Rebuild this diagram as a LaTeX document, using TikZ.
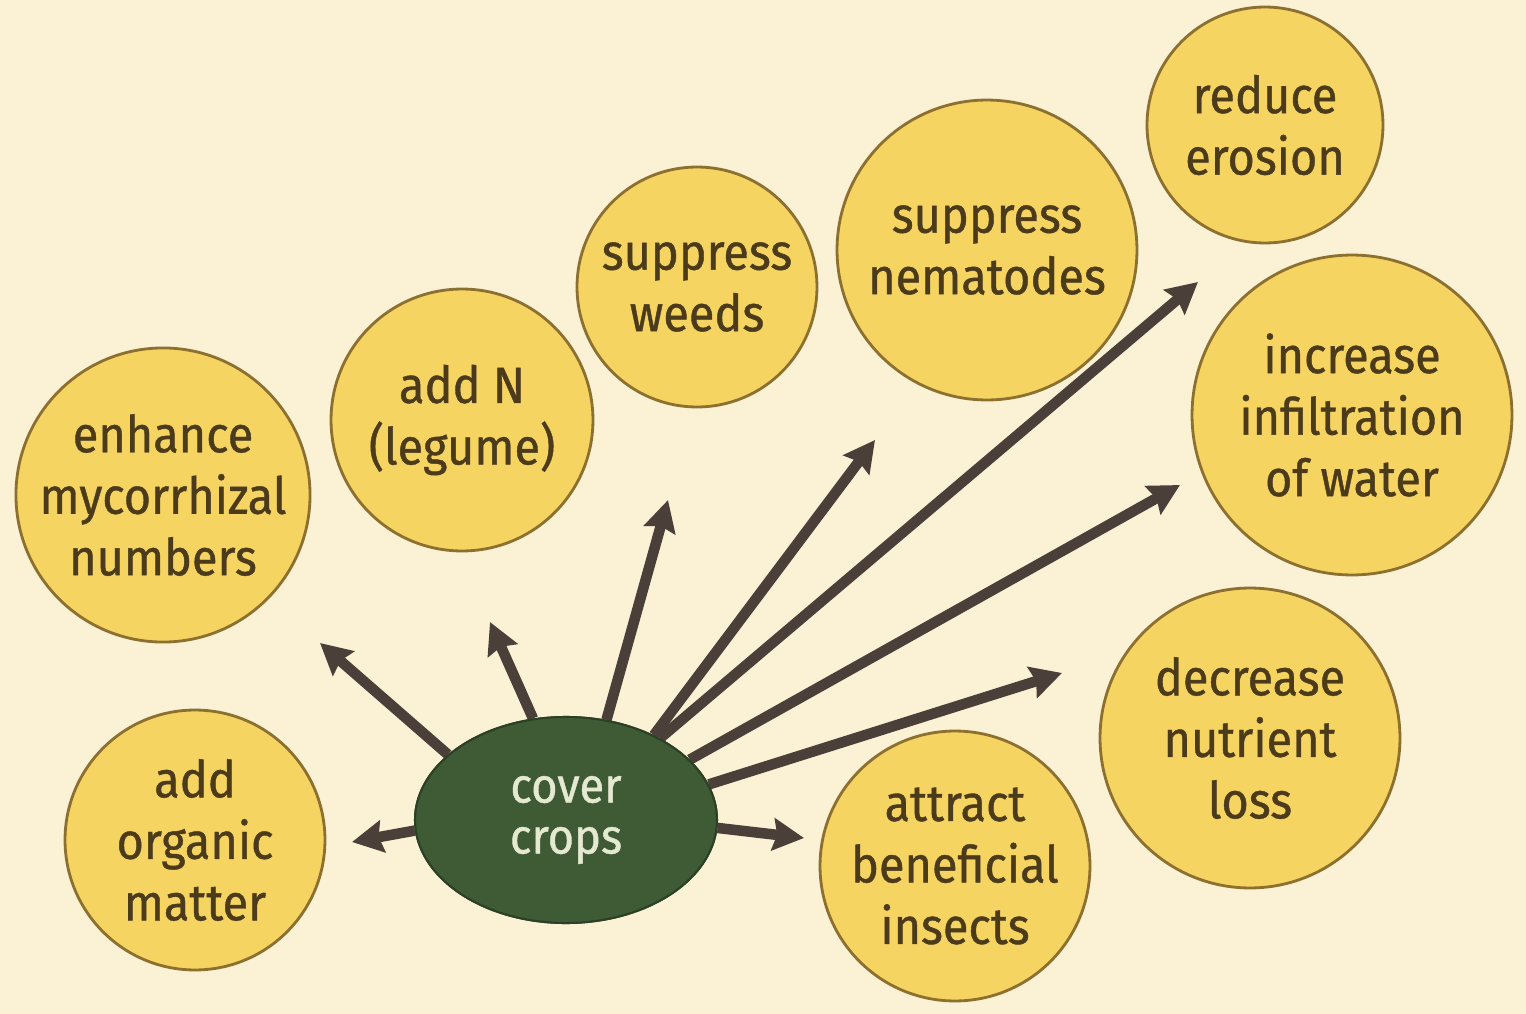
\documentclass[tikz,border=0pt]{standalone}
\usepackage{fontspec}
\setmainfont{Fira Sans}[FakeStretch=0.92,FakeBold=0.8]
\usetikzlibrary{arrows.meta,shapes.geometric}
\definecolor{bg}{HTML}{FBF1D5}
\definecolor{disc}{HTML}{F6D462}
\definecolor{rim}{HTML}{8C7030}
\definecolor{ink}{HTML}{4B3B1B}
\definecolor{leaf}{HTML}{3F5B36}
\definecolor{pale}{HTML}{E6E9D2}
\definecolor{shaft}{HTML}{4A4039}
\begin{document}
\begin{tikzpicture}[x=0.02cm,y=-0.02cm,
  benefit/.style={circle, fill=disc, draw=rim, line width=1.6pt, text=ink,
    align=center, inner sep=0pt, font=\fontsize{29}{35}\selectfont},
  hub/.style={ellipse, fill=leaf, draw=leaf!70!black, line width=1.2pt, text=pale,
    align=center, inner sep=0pt, minimum width=6.04cm, minimum height=4.12cm,
    font=\fontsize{28}{29}\selectfont},
  spoke/.style={draw=shaft, line width=6pt,
    -{Stealth[length=0.62cm,width=0.64cm,inset=0.08cm]}}]
\fill[bg] (0,0) rectangle (1526,1014);
\useasboundingbox (0,0) rectangle (1526,1014);

\node[benefit, minimum size=5.2cm]  (organic)  at (195,840)  {add\\organic\\matter};
\node[benefit, minimum size=5.64cm] (myco)     at (163,495)  {enhance\\mycorrhizal\\numbers};
\node[benefit, minimum size=5.24cm] (addN)     at (462,420)  {add N\\(legume)};
\node[benefit, minimum size=4.8cm]  (weeds)    at (697,287)  {suppress\\weeds};
\node[benefit, minimum size=6.0cm]  (nema)     at (987,250)  {suppress\\nematodes};
\node[benefit, minimum size=4.72cm] (erosion)  at (1265,125) {reduce\\erosion};
\node[benefit, minimum size=6.4cm]  (infil)    at (1352,415) {increase\\infiltration\\of water};
\node[benefit, minimum size=6.0cm]  (nutrient) at (1250,738) {decrease\\nutrient\\loss};
\node[benefit, minimum size=5.4cm]  (insects)  at (955,866)  {attract\\beneficial\\insects};

\coordinate (t1) at (352,842);
\coordinate (t2) at (320,643);
\coordinate (t3) at (490,622);
\coordinate (t4) at (668,500);
\coordinate (t5) at (875,440);
\coordinate (t6) at (1198,282);
\coordinate (t7) at (1180,485);
\coordinate (t8) at (1062,673);
\coordinate (t9) at (804,838);

\node[hub] (cc) at (566,820) {};
\foreach \a/\t in {184/t1,151/t2,108/t3,68/t4,44/t5,41/t6,26/t7,14/t8,-3/t9}
  \draw[spoke] (cc.\a) -- (\t);
\node[hub] (hub) at (566,820) {cover\\crops};
\end{tikzpicture}
\end{document}
